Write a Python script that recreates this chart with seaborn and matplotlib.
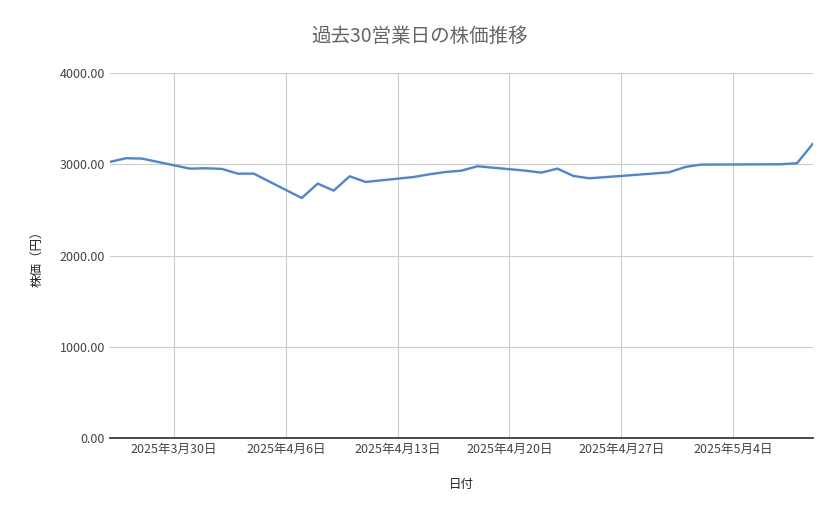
import pandas as pd
import matplotlib.pyplot as plt
import seaborn as sns

# === Daten ===
dates = ["2025-03-26", "2025-03-27", "2025-03-28", "2025-03-31", "2025-04-01", "2025-04-02",
         "2025-04-03", "2025-04-04", "2025-04-07", "2025-04-08", "2025-04-09", "2025-04-10",
         "2025-04-11", "2025-04-14", "2025-04-15", "2025-04-16", "2025-04-17", "2025-04-18",
         "2025-04-21", "2025-04-22", "2025-04-23", "2025-04-24", "2025-04-25", "2025-04-28",
         "2025-04-30", "2025-05-01", "2025-05-02", "2025-05-07", "2025-05-08", "2025-05-09"]
prices = [3026, 3066, 3062, 2952, 2956, 2949, 2897, 2897, 2630, 2788, 2711, 2868,
          2806, 2860, 2890, 2915, 2930, 2978, 2930, 2908, 2952, 2872, 2846, 2885,
          2912, 2970, 2996, 3000, 3011, 3227]
tick_dates = ["2025-03-30", "2025-04-06", "2025-04-13", "2025-04-20", "2025-04-27", "2025-05-04"]

df = pd.DataFrame({"date": pd.to_datetime(dates), "price": prices})

# === Plot ===
sns.set_theme(style="white")
plt.rcParams['font.family'] = ['Noto Sans CJK JP', 'DejaVu Sans']

fig = plt.figure(figsize=(8.39, 5.19), dpi=100)
ax = fig.add_axes([110 / 839, 1 - 438 / 519, 703 / 839, 365 / 519])
sns.lineplot(data=df, x="date", y="price", ax=ax, color="#4a86d8", linewidth=1.7)

ax.set_ylim(0, 4000)
ax.set_yticks([0, 1000, 2000, 3000, 4000])
ax.set_yticklabels([f"{v:.2f}" for v in [0, 1000, 2000, 3000, 4000]])
ax.set_xlim(pd.Timestamp("2025-03-26"), pd.Timestamp("2025-05-09"))
ticks = pd.to_datetime(tick_dates)
ax.set_xticks(ticks)
ax.set_xticklabels([f"{d.year}年{d.month}月{d.day}日" for d in ticks])

ax.grid(True, color="#cccccc", linewidth=0.8)
for s in ["top", "right", "left"]:
    ax.spines[s].set_visible(False)
ax.spines["bottom"].set_color("#333333")
ax.tick_params(axis="both", length=0, labelsize=9, colors="#444444")

ax.set_xlabel("日付", fontsize=9, color="#222222", labelpad=16)
ax.set_ylabel("株価（円）", fontsize=9, color="#222222", labelpad=12)
fig.suptitle("過去30営業日の株価推移", y=0.95, fontsize=14, color="#666666")

fig.savefig("out.png", dpi=100)
